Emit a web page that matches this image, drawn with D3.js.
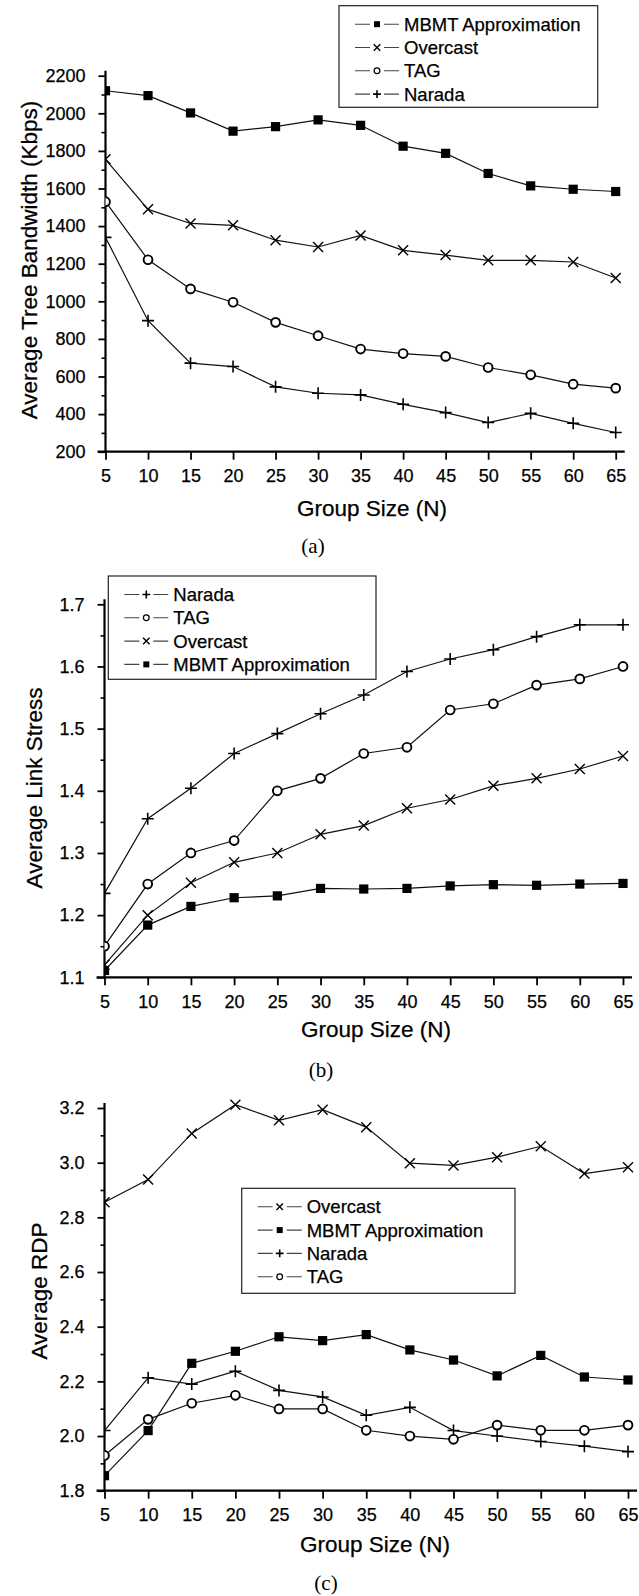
<!DOCTYPE html>
<html>
<head>
<meta charset="utf-8">
<script src="https://cdnjs.cloudflare.com/ajax/libs/d3/7.8.5/d3.min.js"></script>
<style>
body { margin: 0; background: #fff; }
svg { display: block; }
text { stroke: #000; stroke-width: 0.25px; }
</style>
</head>
<body>
<svg id="fig" width="639" height="1596"></svg>
<script>
// x values shared by all three plots
const groupSizes = [5, 10, 15, 20, 25, 30, 35, 40, 45, 50, 55, 60, 65]

// (a) average tree bandwidth, Kbps
const bwMBMT     = [2120, 2094, 2002, 1905, 1929, 1965, 1936, 1825, 1787, 1680, 1614, 1596, 1584]
const bwOvercast = [1755, 1489, 1414, 1404, 1325, 1289, 1350, 1271, 1246, 1218, 1218, 1209, 1124]
const bwTAG      = [1530, 1221, 1066, 995, 888, 817, 746, 722, 707, 648, 609, 559, 538]
const bwNarada   = [1340, 897, 671, 653, 545, 511, 502, 452, 408, 355, 404, 351, 302]
const bwTicks    = [200, 400, 600, 800, 1000, 1200, 1400, 1600, 1800, 2000, 2200]

// (b) average link stress
const lsNarada   = [1.235, 1.355, 1.404, 1.46, 1.492, 1.524, 1.554, 1.592, 1.612, 1.627, 1.648, 1.667, 1.667]
const lsTAG      = [1.15, 1.25, 1.30, 1.32, 1.40, 1.42, 1.46, 1.47, 1.53, 1.54, 1.57, 1.58, 1.60]
const lsOvercast = [1.12, 1.20, 1.252, 1.285, 1.30, 1.33, 1.344, 1.372, 1.386, 1.408, 1.42, 1.435, 1.456]
const lsMBMT     = [1.111, 1.184, 1.214, 1.228, 1.231, 1.243, 1.242, 1.243, 1.247, 1.249, 1.248, 1.25, 1.251]
const lsTicks    = [1.1, 1.2, 1.3, 1.4, 1.5, 1.6, 1.7]

// (c) average RDP
const rdpOvercast = [2.855, 2.938, 3.107, 3.212, 3.155, 3.194, 3.13, 2.998, 2.99, 3.02, 3.06, 2.96, 2.983]
const rdpMBMT     = [1.855, 2.02, 2.266, 2.31, 2.363, 2.349, 2.371, 2.315, 2.278, 2.22, 2.295, 2.216, 2.205]
const rdpNarada   = [2.02, 2.213, 2.19, 2.237, 2.167, 2.143, 2.076, 2.105, 2.02, 2.0, 1.98, 1.963, 1.943]
const rdpTAG      = [1.929, 2.061, 2.12, 2.149, 2.099, 2.099, 2.021, 2.0, 1.988, 2.04, 2.021, 2.021, 2.04]
const rdpTicks    = [1.8, 2.0, 2.2, 2.4, 2.6, 2.8, 3.0, 3.2]

const xTicks = groupSizes

const SANS = "'Liberation Sans', Arial, sans-serif"
const SERIF = "'Liberation Serif', 'Times New Roman', serif"

let svg = d3.select('#fig')

// marker shapes, s = scale (1 for plot, smaller for legend)
function marker(g, type, s) {
  if (type == 'square') {
    g.append('rect').attr('x', -4.6 * s).attr('y', -4.6 * s)
      .attr('width', 9.2 * s).attr('height', 9.2 * s).attr('fill', '#000')
  } else if (type == 'circle') {
    g.append('circle').attr('r', 4.4 * s).attr('fill', '#fff')
      .attr('stroke', '#000').attr('stroke-width', 1.9 * s)
  } else if (type == 'times') {
    let r = 5 * s
    g.append('path').attr('d', `M${-r},${-r}L${r},${r}M${-r},${r}L${r},${-r}`)
      .attr('stroke', '#000').attr('stroke-width', 1.4).attr('fill', 'none')
  } else if (type == 'plus') {
    let r = 6 * s
    g.append('path').attr('d', `M${-r},0L${r},0M0,${-r}L0,${r}`)
      .attr('stroke', '#000').attr('stroke-width', 1.6).attr('fill', 'none')
  }
}

function panel(cfg, idx) {
  let x = d3.scaleLinear().domain([5, 65]).range([cfg.left, cfg.right])
  let y = d3.scaleLinear().domain(cfg.yDomain).range([cfg.bottom, cfg.top])
  let g = svg.append('g')

  // minor y ticks halfway between labelled ones
  let minor = cfg.yTicks.slice(1).map((t, i) => (t + cfg.yTicks[i]) / 2)
  g.append('g').attr('transform', `translate(${cfg.left},0)`)
    .call(d3.axisLeft(y).tickValues(minor).tickSize(4).tickFormat(''))
    .call(a => a.select('.domain').remove())
    .selectAll('line').attr('stroke-width', 1.6)

  let ya = g.append('g').attr('transform', `translate(${cfg.left},0)`)
    .call(d3.axisLeft(y).tickValues(cfg.yTicks).tickSize(7).tickPadding(13).tickFormat(cfg.fmt))
  ya.select('.domain').remove()
  ya.selectAll('line').attr('stroke-width', 1.8)
  ya.selectAll('text').attr('font-family', SANS).attr('font-size', 18).attr('fill', '#000')

  let xa = g.append('g').attr('transform', `translate(0,${cfg.bottom})`)
    .call(d3.axisBottom(x).tickValues(xTicks).tickSize(8).tickPadding(10))
  xa.select('.domain').remove()
  xa.selectAll('line').attr('stroke-width', 1.8)
  xa.selectAll('text').attr('font-family', SANS).attr('font-size', 18).attr('fill', '#000')

  // axis lines, a bit longer than the data range
  g.append('line').attr('x1', cfg.left).attr('x2', cfg.left)
    .attr('y1', cfg.bottom + 1).attr('y2', cfg.top - 5)
    .attr('stroke', '#000').attr('stroke-width', 2.2)
  g.append('line').attr('x1', cfg.left - 8).attr('x2', cfg.right + 9)
    .attr('y1', cfg.bottom).attr('y2', cfg.bottom)
    .attr('stroke', '#000').attr('stroke-width', 2.2)

  // clip marks at the y axis
  let clipId = 'clip' + idx
  svg.append('clipPath').attr('id', clipId).append('rect')
    .attr('x', cfg.left).attr('y', 0).attr('width', 639 - cfg.left).attr('height', 1596)
  let plot = g.append('g').attr('clip-path', `url(#${clipId})`)

  let line = d3.line().x((d, i) => x(groupSizes[i])).y(d => y(d))
  cfg.series.forEach(s => {
    plot.append('path').datum(s.values).attr('d', line)
      .attr('fill', 'none').attr('stroke', '#111').attr('stroke-width', 1.2)
  })
  cfg.series.forEach(s => {
    plot.selectAll(null).data(s.values).enter().append('g')
      .attr('transform', (d, i) => `translate(${x(groupSizes[i])},${y(d)})`)
      .each(function () { marker(d3.select(this), s.shape, 1) })
  })

  // titles
  g.append('text').text('Group Size (N)')
    .attr('x', cfg.xTitleX).attr('y', cfg.bottom + cfg.xTitleDy)
    .attr('text-anchor', 'middle').attr('font-family', SANS).attr('font-size', 22.5)
  g.append('text').text(cfg.yTitle)
    .attr('transform', `translate(${cfg.yTitleX},${cfg.yTitleY}) rotate(-90)`)
    .attr('text-anchor', 'middle').attr('font-family', SANS).attr('font-size', 22.5)
  g.append('text').text(cfg.caption)
    .attr('x', cfg.capX).attr('y', cfg.capY).style('stroke-width', 0)
    .attr('text-anchor', 'middle').attr('font-family', SERIF).attr('font-size', 21)

  // legend
  let L = cfg.legend
  let lg = g.append('g').attr('transform', `translate(${L.x},${L.y})`)
  lg.append('rect').attr('width', L.w).attr('height', L.h)
    .attr('fill', '#fff').attr('stroke', '#222').attr('stroke-width', 1.2)
  L.order.forEach((name, i) => {
    let s = cfg.series.find(d => d.name == name)
    let row = lg.append('g').attr('transform', `translate(0,${18.5 + i * 23.3})`)
    row.append('line').attr('x1', 16).attr('x2', 60).attr('y1', 0).attr('y2', 0)
      .attr('stroke', '#444').attr('stroke-width', 1.1)
    row.append('rect').attr('x', 31).attr('y', -4).attr('width', 14).attr('height', 8).attr('fill', '#fff')
    let m = row.append('g').attr('transform', 'translate(38,0)')
    marker(m, s.shape, 0.65)
    row.append('text').text(name).attr('x', 65).attr('y', 6.6)
      .attr('font-family', SANS).attr('font-size', 18.5)
  })
}

panel({
  series: [
    {name: 'MBMT Approximation', shape: 'square', values: bwMBMT},
    {name: 'Overcast', shape: 'times', values: bwOvercast},
    {name: 'TAG', shape: 'circle', values: bwTAG},
    {name: 'Narada', shape: 'plus', values: bwNarada},
  ],
  yDomain: [200, 2200], yTicks: bwTicks, fmt: d3.format('d'),
  left: 105.5, right: 615.7, top: 75.7, bottom: 451.7,
  yTitle: 'Average Tree Bandwidth (Kbps)', yTitleX: 37, yTitleY: 260,
  xTitleX: 372, xTitleDy: 64.5, caption: '(a)', capX: 313, capY: 553,
  legend: {x: 339, y: 5.7, w: 258.7, h: 101.6,
    order: ['MBMT Approximation', 'Overcast', 'TAG', 'Narada']},
}, 0)

panel({
  series: [
    {name: 'Narada', shape: 'plus', values: lsNarada},
    {name: 'TAG', shape: 'circle', values: lsTAG},
    {name: 'Overcast', shape: 'times', values: lsOvercast},
    {name: 'MBMT Approximation', shape: 'square', values: lsMBMT},
  ],
  yDomain: [1.1, 1.7], yTicks: lsTicks, fmt: d3.format('.1f'),
  left: 104.5, right: 623, top: 604.3, bottom: 977.3,
  yTitle: 'Average Link Stress', yTitleX: 42, yTitleY: 788,
  xTitleX: 376, xTitleDy: 59.5, caption: '(b)', capX: 321, capY: 1077,
  legend: {x: 108.3, y: 576, w: 267.7, h: 103.3,
    order: ['Narada', 'TAG', 'Overcast', 'MBMT Approximation']},
}, 1)

panel({
  series: [
    {name: 'Overcast', shape: 'times', values: rdpOvercast},
    {name: 'MBMT Approximation', shape: 'square', values: rdpMBMT},
    {name: 'Narada', shape: 'plus', values: rdpNarada},
    {name: 'TAG', shape: 'circle', values: rdpTAG},
  ],
  yDomain: [1.8, 3.2], yTicks: rdpTicks, fmt: d3.format('.1f'),
  left: 104.5, right: 628, top: 1108, bottom: 1490.7,
  yTitle: 'Average RDP', yTitleX: 47, yTitleY: 1291,
  xTitleX: 375, xTitleDy: 61, caption: '(c)', capX: 326, capY: 1590,
  legend: {x: 241.7, y: 1188.3, w: 273.3, h: 105,
    order: ['Overcast', 'MBMT Approximation', 'Narada', 'TAG']},
}, 2)
</script>
</body>
</html>
